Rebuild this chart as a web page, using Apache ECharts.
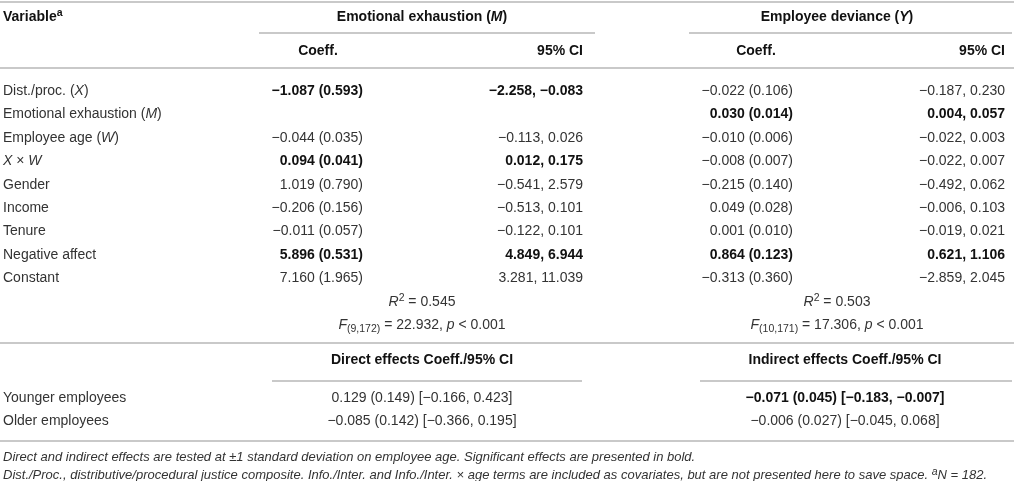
<!DOCTYPE html>
<html>
<head>
<meta charset="utf-8">
<script src="https://cdn.jsdelivr.net/npm/echarts@6/dist/echarts.min.js"></script>
<style>
html,body{margin:0;padding:0;background:#fff;}
#chart{width:1014px;height:481px;}
</style>
</head>
<body>
<div id="chart"></div>
<script>
// ---------------- DATA ----------------
const rowLabels = ['Dist./proc. ({i|X})', 'Emotional exhaustion ({i|M})', 'Employee age ({i|W})', '{i|X} × {i|W}', 'Gender', 'Income', 'Tenure', 'Negative affect', 'Constant'];
const eeCoeff = ['−1.087 (0.593)', '', '−0.044 (0.035)', '0.094 (0.041)', '1.019 (0.790)', '−0.206 (0.156)', '−0.011 (0.057)', '5.896 (0.531)', '7.160 (1.965)'];
const eeCI    = ['−2.258, −0.083', '', '−0.113, 0.026', '0.012, 0.175', '−0.541, 2.579', '−0.513, 0.101', '−0.122, 0.101', '4.849, 6.944', '3.281, 11.039'];
const eeBold  = [1, 0, 0, 1, 0, 0, 0, 1, 0];
const edCoeff = ['−0.022 (0.106)', '0.030 (0.014)', '−0.010 (0.006)', '−0.008 (0.007)', '−0.215 (0.140)', '0.049 (0.028)', '0.001 (0.010)', '0.864 (0.123)', '−0.313 (0.360)'];
const edCI    = ['−0.187, 0.230', '0.004, 0.057', '−0.022, 0.003', '−0.022, 0.007', '−0.492, 0.062', '−0.006, 0.103', '−0.019, 0.021', '0.621, 1.106', '−2.859, 2.045'];
const edBold  = [0, 1, 0, 0, 0, 0, 0, 1, 0];
const rSquared = ['0.545', '0.503'];
const fDf = ['9,172', '10,171'];
const fValue = ['22.932', '17.306'];
const pText = ['< 0.001', '< 0.001'];
const effectRows = ['Younger employees', 'Older employees'];
const directEff = ['0.129 (0.149) [−0.166, 0.423]', '−0.085 (0.142) [−0.366, 0.195]'];
const directBold = [0, 0];
const indirectEff = ['−0.071 (0.045) [−0.183, −0.007]', '−0.006 (0.027) [−0.045, 0.068]'];
const indirectBold = [1, 0];
const headerTexts = ['Variable{sup|a}', 'Emotional exhaustion ({i|M})', 'Employee deviance ({i|Y})', 'Coeff.', '95% CI', 'Direct effects Coeff./95% CI', 'Indirect effects Coeff./95% CI'];
const notes = [
  'Direct and indirect effects are tested at ±1 standard deviation on employee age. Significant effects are presented in bold.',
  'Dist./Proc., distributive/procedural justice composite. Info./Inter. and Info./Inter. × age terms are included as covariates, but are not presented here to save space. {sup|a}N = 182.'
];

// ---------------- LAYOUT (layout units = px of the table) ----------------
const L = {
  xLabel: 3,
  eeCoeffR: 363, eeCoeffHead: 318, eeCIR: 583,
  edCoeffR: 793, edCoeffHead: 756, edCIR: 1005,
  eeCenter: 422, edCenter: 837,
  directC: 422, indirectC: 845,
  yHead1: 17, yHead2: 51, yRow0: 91, rowStep: 23.42,
  yEffHead: 360, yEff0: 398, yNote0: 457, noteStep: 18.5,
  rules: [[0, 1014, 2], [259, 595, 33], [689, 1012, 33], [0, 1014, 68], [0, 1014, 343], [272, 582, 381], [700, 1012, 381], [0, 1014, 441]]
};

const FONT = '"Liberation Sans", Arial, Helvetica, sans-serif';
const REG = '#333333', BOLD = '#111111';

const cells = [];
function add(x, y, text, align, kind) { cells.push({x, y, text, align, kind: kind || 'reg'}); }

add(L.xLabel, L.yHead1, headerTexts[0], 'left', 'bold');
add(L.eeCenter, L.yHead1, headerTexts[1], 'center', 'bold');
add(L.edCenter, L.yHead1, headerTexts[2], 'center', 'bold');
add(L.eeCoeffHead, L.yHead2, headerTexts[3], 'center', 'bold');
add(L.eeCIR, L.yHead2, headerTexts[4], 'right', 'bold');
add(L.edCoeffHead, L.yHead2, headerTexts[3], 'center', 'bold');
add(L.edCIR, L.yHead2, headerTexts[4], 'right', 'bold');

rowLabels.forEach((lab, i) => {
  const y = L.yRow0 + i * L.rowStep;
  add(L.xLabel, y, lab, 'left', 'reg');
  if (eeCoeff[i]) add(L.eeCoeffR, y, eeCoeff[i], 'right', eeBold[i] ? 'bold' : 'reg');
  if (eeCI[i]) add(L.eeCIR, y, eeCI[i], 'right', eeBold[i] ? 'bold' : 'reg');
  add(L.edCoeffR, y, edCoeff[i], 'right', edBold[i] ? 'bold' : 'reg');
  add(L.edCIR, y, edCI[i], 'right', edBold[i] ? 'bold' : 'reg');
});
const yR2 = L.yRow0 + rowLabels.length * L.rowStep;
const yF = yR2 + L.rowStep;
[L.eeCenter, L.edCenter].forEach((cx, k) => {
  add(cx, yR2, '{i|R}{sup|2} = ' + rSquared[k], 'center', 'reg');
  add(cx, yF, '{i|F}{sub|(' + fDf[k] + ')} = ' + fValue[k] + ', {i|p} ' + pText[k], 'center', 'reg');
});

add(L.directC, L.yEffHead, headerTexts[5], 'center', 'bold');
add(L.indirectC, L.yEffHead, headerTexts[6], 'center', 'bold');
effectRows.forEach((lab, i) => {
  const y = L.yEff0 + i * L.rowStep;
  add(L.xLabel, y, lab, 'left', 'reg');
  add(L.directC, y, directEff[i], 'center', directBold[i] ? 'bold' : 'reg');
  add(L.indirectC, y, indirectEff[i], 'center', indirectBold[i] ? 'bold' : 'reg');
});
notes.forEach((t, i) => add(L.xLabel, L.yNote0 + i * L.noteStep, t, 'left', 'note'));

function richFor(kind) {
  const isBold = kind === 'bold';
  const size = kind === 'note' ? 13 : 14;
  const fill = isBold ? BOLD : REG;
  const fw = isBold ? 'bold' : 'normal';
  const fs = kind === 'note' ? 'italic' : 'normal';
  return {
    i: {fontStyle: 'italic', fontWeight: fw, fontSize: size, fontFamily: FONT, fill: fill, lineHeight: 18},
    sup: {fontSize: 10.5, fontWeight: fw, fontStyle: fs, fontFamily: FONT, fill: fill, verticalAlign: 'top', lineHeight: 17},
    sub: {fontSize: 10.5, fontWeight: fw, fontStyle: fs, fontFamily: FONT, fill: fill, verticalAlign: 'bottom', lineHeight: 14, padding: [6, 0, 0, 0]}
  };
}

const chart = echarts.init(document.getElementById('chart'), null, {renderer: 'canvas'});
chart.setOption({
  backgroundColor: '#ffffff',
  animation: false,
  grid: {left: 0, right: 0, top: 0, bottom: 0},
  xAxis: {type: 'value', min: 0, max: 1014, show: false},
  yAxis: {type: 'value', min: 0, max: 481, inverse: true, show: false},
  series: [
    {
      type: 'custom',
      coordinateSystem: 'cartesian2d',
      silent: true,
      data: L.rules.map(r => [r[0], r[2], r[1]]),
      renderItem: function (params, api) {
        const p1 = api.coord([api.value(0), api.value(1)]);
        const p2 = api.coord([api.value(2), api.value(1)]);
        return {type: 'line', shape: {x1: p1[0], y1: p1[1], x2: p2[0], y2: p2[1]},
          style: {stroke: '#c9c9c9', lineWidth: 2}};
      }
    },
    {
      type: 'custom',
      coordinateSystem: 'cartesian2d',
      silent: true,
      data: cells.map(c => [c.x, c.y]),
      renderItem: function (params, api) {
        const c = cells[params.dataIndex];
        const p = api.coord([api.value(0), api.value(1)]);
        const isBold = c.kind === 'bold';
        return {
          type: 'text', x: p[0], y: p[1],
          style: {
            text: c.text,
            fill: isBold ? BOLD : REG,
            fontFamily: FONT,
            fontSize: c.kind === 'note' ? 13 : 14,
            fontWeight: isBold ? 'bold' : 'normal',
            fontStyle: c.kind === 'note' ? 'italic' : 'normal',
            lineHeight: 18,
            align: c.align,
            verticalAlign: 'middle',
            rich: richFor(c.kind)
          }
        };
      }
    }
  ]
});
</script>
</body>
</html>
